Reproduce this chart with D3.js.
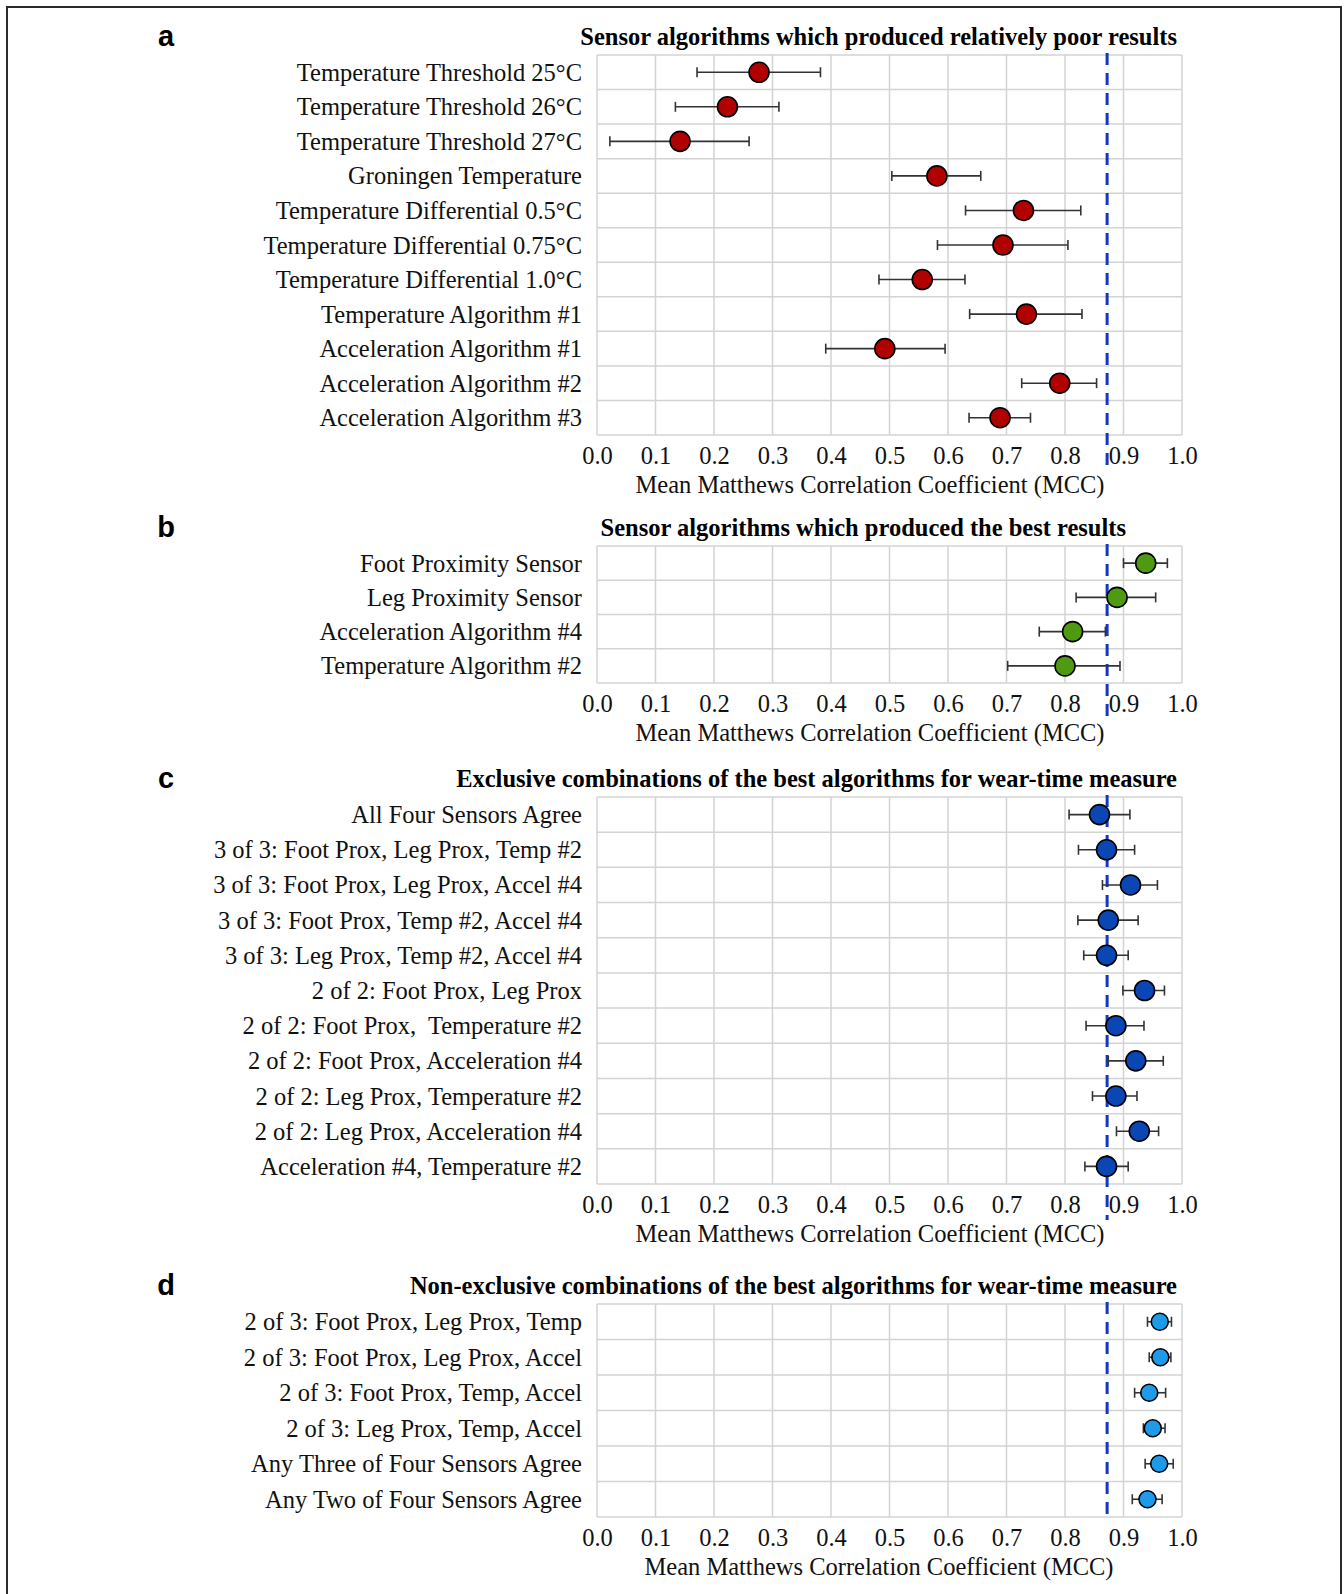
<!DOCTYPE html>
<html>
<head>
<meta charset="utf-8">
<script src="https://cdn.jsdelivr.net/npm/d3@7"></script>
<style>
  html, body { margin: 0; padding: 0; background: #fff; }
  svg { display: block; }
  text { white-space: pre; }
</style>
</head>
<body>
<svg id="chart" width="1344" height="1594"></svg>
<script>
// ---------------- DATA ----------------
const xTicks = [0.0, 0.1, 0.2, 0.3, 0.4, 0.5, 0.6, 0.7, 0.8, 0.9, 1.0];
const referenceMCC = 0.872;
const axisTitle = "Mean Matthews Correlation Coefficient (MCC)";

const panelLetters = ["a", "b", "c", "d"];
const panelTitles = [
  "Sensor algorithms which produced relatively poor results",
  "Sensor algorithms which produced the best results",
  "Exclusive combinations of the best algorithms for wear-time measure",
  "Non-exclusive combinations of the best algorithms for wear-time measure"
];

const catsA = [
  "Temperature Threshold 25°C", "Temperature Threshold 26°C", "Temperature Threshold 27°C",
  "Groningen Temperature", "Temperature Differential 0.5°C", "Temperature Differential 0.75°C",
  "Temperature Differential 1.0°C", "Temperature Algorithm #1", "Acceleration Algorithm #1",
  "Acceleration Algorithm #2", "Acceleration Algorithm #3"
];
const meanA = [0.277, 0.223, 0.142, 0.581, 0.729, 0.694, 0.556, 0.734, 0.492, 0.791, 0.689];
const lowA  = [0.171, 0.134, 0.022, 0.504, 0.630, 0.582, 0.482, 0.637, 0.391, 0.726, 0.636];
const highA = [0.382, 0.311, 0.260, 0.656, 0.827, 0.805, 0.629, 0.829, 0.595, 0.854, 0.741];

const catsB = ["Foot Proximity Sensor", "Leg Proximity Sensor", "Acceleration Algorithm #4", "Temperature Algorithm #2"];
const meanB = [0.938, 0.889, 0.813, 0.800];
const lowB  = [0.900, 0.819, 0.756, 0.702];
const highB = [0.975, 0.955, 0.869, 0.894];

const catsC = [
  "All Four Sensors Agree",
  "3 of 3: Foot Prox, Leg Prox, Temp #2",
  "3 of 3: Foot Prox, Leg Prox, Accel #4",
  "3 of 3: Foot Prox, Temp #2, Accel #4",
  "3 of 3: Leg Prox, Temp #2, Accel #4",
  "2 of 2: Foot Prox, Leg Prox",
  "2 of 2: Foot Prox,  Temperature #2",
  "2 of 2: Foot Prox, Acceleration #4",
  "2 of 2: Leg Prox, Temperature #2",
  "2 of 2: Leg Prox, Acceleration #4",
  "Acceleration #4, Temperature #2"
];
const meanC = [0.859, 0.871, 0.912, 0.874, 0.871, 0.936, 0.887, 0.921, 0.887, 0.927, 0.871];
const lowC  = [0.807, 0.823, 0.864, 0.822, 0.832, 0.899, 0.836, 0.874, 0.847, 0.888, 0.834];
const highC = [0.911, 0.919, 0.958, 0.925, 0.908, 0.970, 0.935, 0.968, 0.923, 0.960, 0.908];

const catsD = [
  "2 of 3: Foot Prox, Leg Prox, Temp",
  "2 of 3: Foot Prox, Leg Prox, Accel",
  "2 of 3: Foot Prox, Temp, Accel",
  "2 of 3: Leg Prox, Temp, Accel",
  "Any Three of Four Sensors Agree",
  "Any Two of Four Sensors Agree"
];
const meanD = [0.962, 0.963, 0.944, 0.950, 0.961, 0.941];
const lowD  = [0.941, 0.944, 0.919, 0.934, 0.937, 0.915];
const highD = [0.982, 0.981, 0.972, 0.971, 0.985, 0.966];

// ---------------- LAYOUT / STYLE ----------------
const plotLeft = 597, plotRight = 1182;
const serif = "'Liberation Serif', 'Times New Roman', serif";
const gridColor = "#d3d3d3";
const fs = 24.5;

const panels = [
  { cats: catsA, mean: meanA, low: lowA, high: highA, top: 55, bottom: 435,
    color: "#b00000", r: 10, titleX: 1177, axisTitleX: 870, dashExt: 36 },
  { cats: catsB, mean: meanB, low: lowB, high: highB, top: 546, bottom: 683,
    color: "#4e9a10", r: 10, titleX: 1126, axisTitleX: 870, dashExt: 34 },
  { cats: catsC, mean: meanC, low: lowC, high: highC, top: 797, bottom: 1184,
    color: "#0a46b4", r: 10, titleX: 1177, axisTitleX: 870, dashExt: 36 },
  { cats: catsD, mean: meanD, low: lowD, high: highD, top: 1304, bottom: 1517,
    color: "#1e9be8", r: 8.5, titleX: 1177, axisTitleX: 879, dashExt: 0 }
];

const svg = d3.select("#chart");

// outer frame
svg.append("rect")
  .attr("x", 7).attr("y", 7).attr("width", 1334).attr("height", 1600)
  .attr("fill", "none").attr("stroke", "#2b2b2b").attr("stroke-width", 2);

const x = d3.scaleLinear().domain([0, 1]).range([plotLeft, plotRight]);

panels.forEach((p, i) => {
  const g = svg.append("g");
  const y = d3.scaleBand().domain(p.cats).range([p.top, p.bottom]).paddingInner(0).paddingOuter(0);

  // panel letter
  g.append("text")
    .attr("x", 166).attr("y", p.top - 19)
    .attr("text-anchor", "middle").attr("dominant-baseline", "central")
    .attr("font-family", "'Liberation Sans', Arial, sans-serif")
    .attr("font-weight", "bold").attr("font-size", 29)
    .text(panelLetters[i]);

  // panel title
  g.append("text")
    .attr("x", p.titleX).attr("y", p.top - 18.5)
    .attr("text-anchor", "end").attr("dominant-baseline", "central")
    .attr("font-family", serif).attr("font-weight", "bold").attr("font-size", fs)
    .text(panelTitles[i]);

  // vertical gridlines
  g.append("g").selectAll("line").data(xTicks).join("line")
    .attr("x1", d => x(d)).attr("x2", d => x(d))
    .attr("y1", p.top).attr("y2", p.bottom)
    .attr("stroke", gridColor).attr("stroke-width", 1.5);

  // horizontal gridlines (row boundaries)
  const bounds = p.cats.map(c => y(c)).concat([p.bottom]);
  g.append("g").selectAll("line").data(bounds).join("line")
    .attr("x1", plotLeft).attr("x2", plotRight)
    .attr("y1", d => d).attr("y2", d => d)
    .attr("stroke", gridColor).attr("stroke-width", 1.5);

  // x axis tick labels via d3 axis
  const axis = d3.axisBottom(x).tickValues(xTicks).tickFormat(d3.format(".1f")).tickSize(0).tickPadding(0);
  const ag = g.append("g").attr("transform", `translate(0,${p.bottom})`).call(axis);
  ag.select(".domain").remove();
  ag.selectAll("text")
    .attr("y", 20.5).attr("dy", null)
    .attr("dominant-baseline", "central")
    .attr("font-family", serif).attr("font-size", fs).attr("fill", "#111");

  // axis title
  g.append("text")
    .attr("x", p.axisTitleX).attr("y", p.bottom + 49)
    .attr("text-anchor", "middle").attr("dominant-baseline", "central")
    .attr("font-family", serif).attr("font-size", fs).attr("fill", "#111")
    .text(axisTitle);

  // y category labels via d3 axis
  const yAxis = d3.axisLeft(y).tickSize(0).tickPadding(15);
  const yg = g.append("g").attr("transform", `translate(${plotLeft},0)`).call(yAxis);
  yg.select(".domain").remove();
  yg.selectAll("text")
    .attr("dy", null).attr("dominant-baseline", "central")
    .attr("font-family", serif).attr("font-size", fs).attr("fill", "#111");

  // reference dashed line
  g.append("line")
    .attr("x1", x(referenceMCC)).attr("x2", x(referenceMCC))
    .attr("y1", p.top - 2).attr("y2", p.bottom + p.dashExt)
    .attr("stroke", "#1238c0").attr("stroke-width", 3)
    .attr("stroke-dasharray", "12,8");

  const idx = d3.range(p.cats.length);
  const cy = j => y(p.cats[j]) + y.bandwidth() / 2;

  // error bars
  const eg = g.append("g").attr("stroke", "#333").attr("stroke-width", 1.6);
  eg.selectAll("line.h").data(idx).join("line").attr("class", "h")
    .attr("x1", j => x(p.low[j])).attr("x2", j => x(p.high[j]))
    .attr("y1", cy).attr("y2", cy);
  eg.selectAll("line.l").data(idx).join("line").attr("class", "l")
    .attr("x1", j => x(p.low[j])).attr("x2", j => x(p.low[j]))
    .attr("y1", j => cy(j) - 5).attr("y2", j => cy(j) + 5);
  eg.selectAll("line.r").data(idx).join("line").attr("class", "r")
    .attr("x1", j => x(p.high[j])).attr("x2", j => x(p.high[j]))
    .attr("y1", j => cy(j) - 5).attr("y2", j => cy(j) + 5);

  // points
  g.append("g").selectAll("circle").data(idx).join("circle")
    .attr("cx", j => x(p.mean[j])).attr("cy", cy)
    .attr("r", p.r)
    .attr("fill", p.color).attr("stroke", "#000").attr("stroke-width", 1.6);
});
</script>
</body>
</html>
